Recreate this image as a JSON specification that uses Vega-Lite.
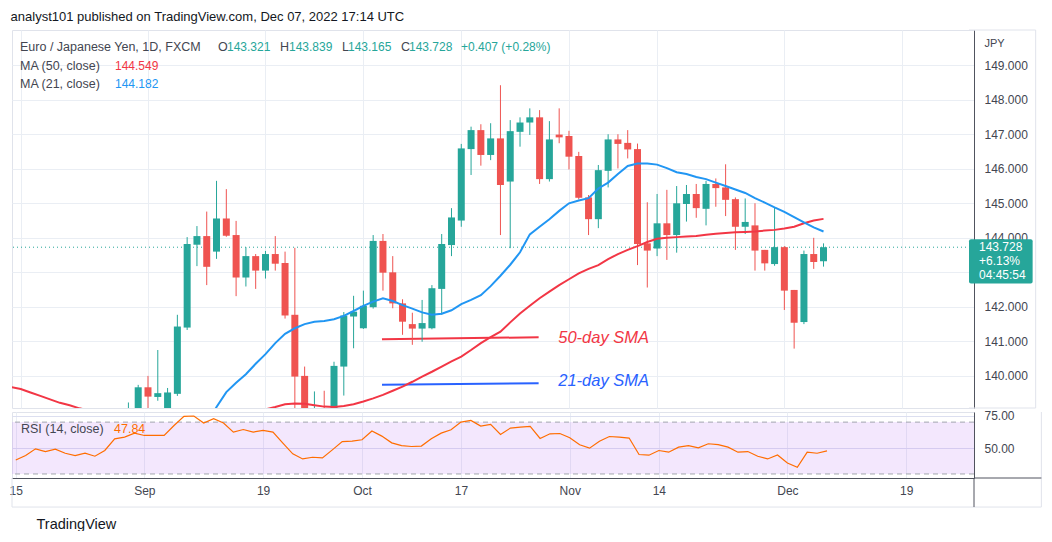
{
  "$schema": "https://vega.github.io/schema/vega-lite/v6.json",
  "background": "#ffffff",
  "padding": {"left": 8, "top": 11, "right": 0, "bottom": 0},
  "title": {
    "text": "analyst101 published on TradingView.com, Dec 07, 2022 17:14 UTC",
    "anchor": "start",
    "font": "Liberation Sans",
    "fontSize": 13,
    "fontWeight": "normal",
    "color": "#131722",
    "offset": 5,
    "dx": 2
  },
  "datasets": {
    "bars": [
      {"i": -2, "o": 138.75, "h": 139.23, "l": 138.55, "c": 138.95},
      {"i": -1, "o": 138.95, "h": 139.74, "l": 138.8, "c": 139.67},
      {"i": 0, "o": 139.67, "h": 140.0, "l": 138.95, "c": 139.4},
      {"i": 1, "o": 139.39, "h": 140.75, "l": 139.28, "c": 139.5},
      {"i": 2, "o": 138.6, "h": 139.65, "l": 138.2, "c": 139.52},
      {"i": 3, "o": 139.48, "h": 141.77, "l": 139.42, "c": 141.43},
      {"i": 4, "o": 141.4, "h": 144.02, "l": 141.33, "c": 143.82},
      {"i": 5, "o": 143.8, "h": 144.34, "l": 143.18, "c": 144.05},
      {"i": 6, "o": 144.05, "h": 144.76, "l": 142.63, "c": 143.16},
      {"i": 7, "o": 143.6, "h": 145.65, "l": 143.39, "c": 144.56},
      {"i": 8, "o": 144.56, "h": 145.41, "l": 144.03, "c": 144.06},
      {"i": 9, "o": 144.08, "h": 144.49, "l": 142.31, "c": 142.85},
      {"i": 10, "o": 142.85, "h": 143.73, "l": 142.59, "c": 143.47},
      {"i": 11, "o": 143.47, "h": 143.53, "l": 142.52, "c": 143.05},
      {"i": 12, "o": 143.05, "h": 143.62, "l": 142.82, "c": 143.53},
      {"i": 13, "o": 143.53, "h": 144.05, "l": 143.05, "c": 143.25},
      {"i": 14, "o": 143.27, "h": 143.6, "l": 141.66, "c": 141.75},
      {"i": 15, "o": 141.77, "h": 143.71, "l": 137.9, "c": 139.98},
      {"i": 16, "o": 140.0, "h": 140.27, "l": 138.3, "c": 138.65},
      {"i": 17, "o": 138.65, "h": 139.55, "l": 138.2, "c": 138.9},
      {"i": 18, "o": 138.9, "h": 139.57, "l": 138.4, "c": 138.6},
      {"i": 19, "o": 138.6, "h": 140.41, "l": 138.45, "c": 140.29},
      {"i": 20, "o": 140.27, "h": 141.85, "l": 139.43, "c": 141.75},
      {"i": 21, "o": 141.72, "h": 142.32, "l": 140.8, "c": 141.86},
      {"i": 22, "o": 141.38, "h": 142.47, "l": 141.36, "c": 142.03},
      {"i": 23, "o": 141.99, "h": 144.08, "l": 141.95, "c": 143.91},
      {"i": 24, "o": 143.91, "h": 144.11, "l": 142.47, "c": 142.99},
      {"i": 25, "o": 143.0, "h": 143.47, "l": 141.96, "c": 142.1},
      {"i": 26, "o": 142.1, "h": 142.22, "l": 141.19, "c": 141.57},
      {"i": 27, "o": 141.5, "h": 141.83, "l": 140.9, "c": 141.37},
      {"i": 28, "o": 141.37, "h": 142.2, "l": 140.99, "c": 141.53},
      {"i": 29, "o": 141.38, "h": 142.63, "l": 141.35, "c": 142.54},
      {"i": 30, "o": 142.52, "h": 144.11, "l": 141.77, "c": 143.82},
      {"i": 31, "o": 143.79, "h": 144.86, "l": 143.47, "c": 144.59},
      {"i": 32, "o": 144.5, "h": 146.72, "l": 144.32, "c": 146.59},
      {"i": 33, "o": 146.57, "h": 147.22, "l": 145.82, "c": 147.12},
      {"i": 34, "o": 147.12, "h": 147.29, "l": 146.09, "c": 146.4},
      {"i": 35, "o": 146.4, "h": 147.32, "l": 146.25, "c": 146.88},
      {"i": 36, "o": 146.88, "h": 148.42, "l": 144.08, "c": 145.53},
      {"i": 37, "o": 145.63, "h": 147.41, "l": 143.7, "c": 147.09},
      {"i": 38, "o": 147.07, "h": 147.49, "l": 146.64, "c": 147.34},
      {"i": 39, "o": 147.34, "h": 147.75, "l": 146.98, "c": 147.49},
      {"i": 40, "o": 147.49, "h": 147.7, "l": 145.56, "c": 145.7},
      {"i": 41, "o": 145.7, "h": 147.38, "l": 145.63, "c": 146.85},
      {"i": 42, "o": 146.99, "h": 147.75, "l": 146.74, "c": 146.91},
      {"i": 43, "o": 146.95, "h": 147.1, "l": 145.98, "c": 146.35},
      {"i": 44, "o": 146.37, "h": 146.49, "l": 145.11, "c": 145.16},
      {"i": 45, "o": 145.17, "h": 145.24, "l": 144.08, "c": 144.54},
      {"i": 46, "o": 144.54, "h": 146.11, "l": 144.28, "c": 145.96},
      {"i": 47, "o": 145.94, "h": 147.0, "l": 145.46, "c": 146.85},
      {"i": 48, "o": 146.85, "h": 147.0, "l": 146.01, "c": 146.72},
      {"i": 49, "o": 146.75, "h": 147.12, "l": 146.3, "c": 146.56},
      {"i": 50, "o": 146.57, "h": 146.73, "l": 143.21, "c": 143.82},
      {"i": 51, "o": 143.84, "h": 145.03, "l": 142.56, "c": 143.63},
      {"i": 52, "o": 143.69, "h": 145.27, "l": 143.47, "c": 144.42},
      {"i": 53, "o": 144.42, "h": 145.39, "l": 143.36, "c": 144.08},
      {"i": 54, "o": 144.08, "h": 145.5, "l": 143.57, "c": 145.0},
      {"i": 55, "o": 144.98, "h": 145.53, "l": 144.47, "c": 145.27},
      {"i": 56, "o": 145.27, "h": 145.56, "l": 144.58, "c": 144.86},
      {"i": 57, "o": 144.84, "h": 145.65, "l": 144.36, "c": 145.56},
      {"i": 58, "o": 145.56, "h": 145.72, "l": 144.9, "c": 145.44},
      {"i": 59, "o": 145.46, "h": 146.13, "l": 144.63, "c": 145.1},
      {"i": 60, "o": 145.12, "h": 145.17, "l": 143.65, "c": 144.32},
      {"i": 61, "o": 144.32, "h": 145.14, "l": 144.11, "c": 144.46},
      {"i": 62, "o": 144.36, "h": 145.0, "l": 143.05, "c": 143.63},
      {"i": 63, "o": 143.65, "h": 143.65, "l": 143.05, "c": 143.26},
      {"i": 64, "o": 143.24, "h": 144.88, "l": 143.19, "c": 143.73},
      {"i": 65, "o": 143.73, "h": 143.76, "l": 141.91, "c": 142.47},
      {"i": 66, "o": 142.49, "h": 142.49, "l": 140.79, "c": 141.54},
      {"i": 67, "o": 141.56, "h": 143.63, "l": 141.5, "c": 143.53},
      {"i": 68, "o": 143.53, "h": 144.0, "l": 143.1, "c": 143.3},
      {"i": 69, "o": 143.321, "h": 143.839, "l": 143.165, "c": 143.728}
    ],
    "ma50": [
      {"i": -14, "v": 139.68}, {"i": -13, "v": 139.62}, {"i": -12, "v": 139.52}, {"i": -11, "v": 139.42},
      {"i": -10, "v": 139.32}, {"i": -9, "v": 139.22}, {"i": -8, "v": 139.15}, {"i": -7, "v": 139.06},
      {"i": -6, "v": 139.0}, {"i": -4, "v": 138.92}, {"i": -2, "v": 138.88}, {"i": 0, "v": 138.85},
      {"i": 2, "v": 138.85}, {"i": 4, "v": 138.87}, {"i": 6, "v": 138.9}, {"i": 8, "v": 138.95},
      {"i": 10, "v": 138.98}, {"i": 12, "v": 139.03}, {"i": 13, "v": 139.1}, {"i": 14, "v": 139.18},
      {"i": 15, "v": 139.2}, {"i": 16, "v": 139.19}, {"i": 17, "v": 139.15}, {"i": 18, "v": 139.11},
      {"i": 19, "v": 139.1}, {"i": 20, "v": 139.13}, {"i": 21, "v": 139.18}, {"i": 22, "v": 139.26},
      {"i": 23, "v": 139.35}, {"i": 24, "v": 139.45}, {"i": 25, "v": 139.57}, {"i": 26, "v": 139.69},
      {"i": 27, "v": 139.83}, {"i": 28, "v": 139.98}, {"i": 29, "v": 140.12}, {"i": 30, "v": 140.27},
      {"i": 31, "v": 140.42}, {"i": 32, "v": 140.56}, {"i": 33, "v": 140.75}, {"i": 34, "v": 140.95},
      {"i": 35, "v": 141.12}, {"i": 36, "v": 141.28}, {"i": 37, "v": 141.55}, {"i": 38, "v": 141.81},
      {"i": 39, "v": 142.03}, {"i": 40, "v": 142.25}, {"i": 41, "v": 142.44}, {"i": 42, "v": 142.63},
      {"i": 43, "v": 142.8}, {"i": 44, "v": 142.97}, {"i": 45, "v": 143.1}, {"i": 46, "v": 143.21},
      {"i": 47, "v": 143.38}, {"i": 48, "v": 143.53}, {"i": 49, "v": 143.65}, {"i": 50, "v": 143.76},
      {"i": 51, "v": 143.88}, {"i": 52, "v": 143.97}, {"i": 53, "v": 144.0}, {"i": 54, "v": 144.02},
      {"i": 55, "v": 144.04}, {"i": 56, "v": 144.05}, {"i": 57, "v": 144.09}, {"i": 58, "v": 144.12},
      {"i": 59, "v": 144.14}, {"i": 60, "v": 144.16}, {"i": 61, "v": 144.17}, {"i": 62, "v": 144.18},
      {"i": 63, "v": 144.21}, {"i": 64, "v": 144.23}, {"i": 65, "v": 144.27}, {"i": 66, "v": 144.32},
      {"i": 67, "v": 144.42}, {"i": 68, "v": 144.5}, {"i": 69, "v": 144.549}
    ],
    "ma21": [
      {"i": 5, "v": 138.1}, {"i": 6, "v": 138.6}, {"i": 7, "v": 139.1}, {"i": 8, "v": 139.53},
      {"i": 9, "v": 139.8}, {"i": 10, "v": 140.05}, {"i": 11, "v": 140.35}, {"i": 12, "v": 140.63},
      {"i": 13, "v": 140.95}, {"i": 14, "v": 141.22}, {"i": 15, "v": 141.38}, {"i": 16, "v": 141.5},
      {"i": 17, "v": 141.57}, {"i": 18, "v": 141.59}, {"i": 19, "v": 141.64}, {"i": 20, "v": 141.74},
      {"i": 21, "v": 141.88}, {"i": 22, "v": 142.03}, {"i": 23, "v": 142.15}, {"i": 24, "v": 142.25},
      {"i": 25, "v": 142.17}, {"i": 26, "v": 142.05}, {"i": 27, "v": 141.95}, {"i": 28, "v": 141.84},
      {"i": 29, "v": 141.77}, {"i": 30, "v": 141.8}, {"i": 31, "v": 141.9}, {"i": 32, "v": 142.08},
      {"i": 33, "v": 142.2}, {"i": 34, "v": 142.34}, {"i": 35, "v": 142.6}, {"i": 36, "v": 142.9},
      {"i": 37, "v": 143.22}, {"i": 38, "v": 143.58}, {"i": 39, "v": 144.1}, {"i": 40, "v": 144.32},
      {"i": 41, "v": 144.54}, {"i": 42, "v": 144.78}, {"i": 43, "v": 145.0}, {"i": 44, "v": 145.08},
      {"i": 45, "v": 145.15}, {"i": 46, "v": 145.43}, {"i": 47, "v": 145.6}, {"i": 48, "v": 145.85},
      {"i": 49, "v": 146.08}, {"i": 50, "v": 146.15}, {"i": 51, "v": 146.15}, {"i": 52, "v": 146.12},
      {"i": 53, "v": 146.02}, {"i": 54, "v": 145.9}, {"i": 55, "v": 145.85}, {"i": 56, "v": 145.76},
      {"i": 57, "v": 145.7}, {"i": 58, "v": 145.6}, {"i": 59, "v": 145.5}, {"i": 60, "v": 145.4},
      {"i": 61, "v": 145.3}, {"i": 62, "v": 145.15}, {"i": 63, "v": 145.02}, {"i": 64, "v": 144.88},
      {"i": 65, "v": 144.75}, {"i": 66, "v": 144.6}, {"i": 67, "v": 144.45}, {"i": 68, "v": 144.3},
      {"i": 69, "v": 144.182}
    ],
    "rsi": [
      {"i": -13, "v": 40.8}, {"i": -12, "v": 44.2}, {"i": -11, "v": 49.4}, {"i": -10, "v": 47.3},
      {"i": -9, "v": 49.1}, {"i": -8, "v": 46.0}, {"i": -7, "v": 44.2}, {"i": -6, "v": 46.0},
      {"i": -5, "v": 43.7}, {"i": -4, "v": 48.1}, {"i": -3, "v": 57.1}, {"i": -2, "v": 58.4},
      {"i": -1, "v": 61.5}, {"i": 0, "v": 59.7}, {"i": 1, "v": 59.7}, {"i": 2, "v": 59.7},
      {"i": 3, "v": 67.4}, {"i": 4, "v": 74.4}, {"i": 5, "v": 74.7}, {"i": 6, "v": 69.3},
      {"i": 7, "v": 72.6}, {"i": 8, "v": 69.3}, {"i": 9, "v": 62.3}, {"i": 10, "v": 64.3},
      {"i": 11, "v": 62.3}, {"i": 12, "v": 63.6}, {"i": 13, "v": 62.3}, {"i": 14, "v": 53.8},
      {"i": 15, "v": 45.5}, {"i": 16, "v": 41.6}, {"i": 17, "v": 42.9}, {"i": 18, "v": 42.4},
      {"i": 19, "v": 48.6}, {"i": 20, "v": 55.0}, {"i": 21, "v": 55.3}, {"i": 22, "v": 56.4},
      {"i": 23, "v": 63.1}, {"i": 24, "v": 59.2}, {"i": 25, "v": 54.0}, {"i": 26, "v": 51.9},
      {"i": 27, "v": 51.2}, {"i": 28, "v": 51.5}, {"i": 29, "v": 57.1}, {"i": 30, "v": 61.5},
      {"i": 31, "v": 64.1}, {"i": 32, "v": 70.0}, {"i": 33, "v": 71.3}, {"i": 34, "v": 67.0},
      {"i": 35, "v": 68.2}, {"i": 36, "v": 60.5}, {"i": 37, "v": 65.4}, {"i": 38, "v": 66.2},
      {"i": 39, "v": 66.7}, {"i": 40, "v": 57.4}, {"i": 41, "v": 61.0}, {"i": 42, "v": 61.2},
      {"i": 43, "v": 57.9}, {"i": 44, "v": 52.5}, {"i": 45, "v": 49.9}, {"i": 46, "v": 55.3},
      {"i": 47, "v": 58.9}, {"i": 48, "v": 58.4}, {"i": 49, "v": 57.7}, {"i": 50, "v": 45.0},
      {"i": 51, "v": 44.5}, {"i": 52, "v": 48.1}, {"i": 53, "v": 46.8}, {"i": 54, "v": 50.7},
      {"i": 55, "v": 51.9}, {"i": 56, "v": 50.2}, {"i": 57, "v": 53.3}, {"i": 58, "v": 52.7},
      {"i": 59, "v": 50.7}, {"i": 60, "v": 46.8}, {"i": 61, "v": 47.3}, {"i": 62, "v": 43.7},
      {"i": 63, "v": 41.6}, {"i": 64, "v": 44.7}, {"i": 65, "v": 38.5}, {"i": 66, "v": 35.2},
      {"i": 67, "v": 46.8}, {"i": 68, "v": 46.0}, {"i": 69, "v": 47.84}
    ],
    "notes": [
      {"ma": "50", "i1": 23.9, "i2": 39.9, "p1": 141.06, "p2": 141.12, "ti": 41.9, "tp": 141.1, "label": "50-day SMA"},
      {"ma": "21", "i1": 23.9, "i2": 39.9, "p1": 139.74, "p2": 139.79, "ti": 41.9, "tp": 139.86, "label": "21-day SMA"}
    ],
    "header": [
      {"pair": "Euro / Japanese Yen, 1D, FXCM", "o": "143.321", "h": "143.839", "l": "143.165", "c": "143.728", "chg": "+0.407 (+0.28%)",
       "ma50": "MA (50, close)", "ma50v": "144.549", "ma21": "MA (21, close)", "ma21v": "144.182",
       "rsi": "RSI (14, close)", "rsiv": "47.84"}
    ],
    "rsiBand": [{"top": 70, "bottom": 30}],
    "rsiLevels": [{"level": 70}, {"level": 30}],
    "last": [{"close": 143.728, "lines": ["143.728", "+6.13%", "04:45:54"]}]
  },
  "spacing": 0,
  "vconcat": [
    {
      "width": 962,
      "height": 378,
      "encoding": {
        "x": {
          "type": "quantitative",
          "scale": {"domain": [-13.38, 83.86], "nice": false, "zero": false},
          "axis": {
            "values": [-13, 0, 12, 22, 32, 43, 52, 65, 77],
            "labels": false, "ticks": false, "domain": false, "grid": true,
            "gridColor": "#eaeef4", "title": null, "zindex": 0
          }
        },
        "y": {
          "type": "quantitative",
          "scale": {"domain": [139.07, 150.02], "nice": false, "zero": false},
          "axis": {
            "orient": "right",
            "values": [140, 141, 142, 143, 144, 145, 146, 147, 148, 149],
            "format": ".3f",
            "grid": true, "gridColor": "#eaeef4",
            "ticks": false, "labelPadding": 10,
            "labelFont": "Liberation Sans", "labelFontSize": 12, "labelColor": "#434651",
            "domainColor": "#50535e",
            "title": "JPY", "titleAngle": 0, "titleAlign": "left", "titleBaseline": "middle",
            "titleX": 10, "titleY": 13, "titleFont": "Liberation Sans", "titleFontSize": 11,
            "titleFontWeight": "normal", "titleColor": "#434651",
            "zindex": 0
          }
        }
      },
      "layer": [
        {
          "data": {"name": "last"},
          "mark": {"type": "rule", "color": "#26a69a", "strokeWidth": 1, "strokeDash": [1, 3]},
          "encoding": {"y": {"field": "close"}}
        },
        {
          "data": {"name": "notes"},
          "mark": {"type": "rule", "strokeWidth": 2},
          "encoding": {
            "x": {"field": "i1"}, "x2": {"field": "i2"},
            "y": {"field": "p1"}, "y2": {"field": "p2"},
            "color": {"field": "ma", "type": "nominal", "scale": {"domain": ["50", "21"], "range": ["#f23645", "#2962ff"]}, "legend": null}
          }
        },
        {
          "data": {"name": "notes"},
          "mark": {"type": "text", "align": "left", "baseline": "middle", "font": "Liberation Sans", "fontSize": 16.5, "fontStyle": "italic"},
          "encoding": {
            "x": {"field": "ti"}, "y": {"field": "tp"},
            "text": {"field": "label"},
            "color": {"field": "ma", "type": "nominal", "scale": {"domain": ["50", "21"], "range": ["#f23645", "#2962ff"]}, "legend": null}
          }
        },
        {
          "data": {"name": "bars"},
          "mark": {"type": "rule", "strokeWidth": 1, "clip": true},
          "encoding": {
            "x": {"field": "i"}, "y": {"field": "l"}, "y2": {"field": "h"},
            "color": {"condition": {"test": "datum.c >= datum.o", "value": "#26a69a"}, "value": "#ef5350"}
          }
        },
        {
          "data": {"name": "bars"},
          "mark": {"type": "bar", "size": 7, "clip": true},
          "encoding": {
            "x": {"field": "i"}, "y": {"field": "o"}, "y2": {"field": "c"},
            "color": {"condition": {"test": "datum.c >= datum.o", "value": "#26a69a"}, "value": "#ef5350"}
          }
        },
        {
          "data": {"name": "ma50"},
          "mark": {"type": "line", "color": "#f23645", "strokeWidth": 2, "clip": true},
          "encoding": {"x": {"field": "i"}, "y": {"field": "v"}}
        },
        {
          "data": {"name": "ma21"},
          "mark": {"type": "line", "color": "#2196f3", "strokeWidth": 2, "clip": true},
          "encoding": {"x": {"field": "i"}, "y": {"field": "v"}}
        },
        {"data": {"name": "header"},
         "mark": {"type": "text", "align": "left", "baseline": "middle", "font": "Liberation Sans", "fontSize": 12.5, "color": "#434651", "dx": 3},
         "encoding": {"x": {"datum": -13.38}, "y": {"datum": 149.525}, "text": {"field": "pair"}}},
        {"data": {"name": "header"},
         "mark": {"type": "text", "align": "left", "baseline": "middle", "font": "Liberation Sans", "fontSize": 12.5, "color": "#434651", "dx": 201, "text": "O"},
         "encoding": {"x": {"datum": -13.38}, "y": {"datum": 149.525}}},
        {"data": {"name": "header"},
         "mark": {"type": "text", "align": "left", "baseline": "middle", "font": "Liberation Sans", "fontSize": 12, "color": "#26a69a", "dx": 210},
         "encoding": {"x": {"datum": -13.38}, "y": {"datum": 149.525}, "text": {"field": "o"}}},
        {"data": {"name": "header"},
         "mark": {"type": "text", "align": "left", "baseline": "middle", "font": "Liberation Sans", "fontSize": 12.5, "color": "#434651", "dx": 263, "text": "H"},
         "encoding": {"x": {"datum": -13.38}, "y": {"datum": 149.525}}},
        {"data": {"name": "header"},
         "mark": {"type": "text", "align": "left", "baseline": "middle", "font": "Liberation Sans", "fontSize": 12, "color": "#26a69a", "dx": 272},
         "encoding": {"x": {"datum": -13.38}, "y": {"datum": 149.525}, "text": {"field": "h"}}},
        {"data": {"name": "header"},
         "mark": {"type": "text", "align": "left", "baseline": "middle", "font": "Liberation Sans", "fontSize": 12.5, "color": "#434651", "dx": 325, "text": "L"},
         "encoding": {"x": {"datum": -13.38}, "y": {"datum": 149.525}}},
        {"data": {"name": "header"},
         "mark": {"type": "text", "align": "left", "baseline": "middle", "font": "Liberation Sans", "fontSize": 12, "color": "#26a69a", "dx": 331},
         "encoding": {"x": {"datum": -13.38}, "y": {"datum": 149.525}, "text": {"field": "l"}}},
        {"data": {"name": "header"},
         "mark": {"type": "text", "align": "left", "baseline": "middle", "font": "Liberation Sans", "fontSize": 12.5, "color": "#434651", "dx": 384, "text": "C"},
         "encoding": {"x": {"datum": -13.38}, "y": {"datum": 149.525}}},
        {"data": {"name": "header"},
         "mark": {"type": "text", "align": "left", "baseline": "middle", "font": "Liberation Sans", "fontSize": 12, "color": "#26a69a", "dx": 392},
         "encoding": {"x": {"datum": -13.38}, "y": {"datum": 149.525}, "text": {"field": "c"}}},
        {"data": {"name": "header"},
         "mark": {"type": "text", "align": "left", "baseline": "middle", "font": "Liberation Sans", "fontSize": 12, "color": "#26a69a", "dx": 444},
         "encoding": {"x": {"datum": -13.38}, "y": {"datum": 149.525}, "text": {"field": "chg"}}},
        {"data": {"name": "header"},
         "mark": {"type": "text", "align": "left", "baseline": "middle", "font": "Liberation Sans", "fontSize": 12.5, "color": "#434651", "dx": 3},
         "encoding": {"x": {"datum": -13.38}, "y": {"datum": 148.99}, "text": {"field": "ma50"}}},
        {"data": {"name": "header"},
         "mark": {"type": "text", "align": "left", "baseline": "middle", "font": "Liberation Sans", "fontSize": 12, "color": "#f23645", "dx": 98},
         "encoding": {"x": {"datum": -13.38}, "y": {"datum": 148.99}, "text": {"field": "ma50v"}}},
        {"data": {"name": "header"},
         "mark": {"type": "text", "align": "left", "baseline": "middle", "font": "Liberation Sans", "fontSize": 12.5, "color": "#434651", "dx": 3},
         "encoding": {"x": {"datum": -13.38}, "y": {"datum": 148.455}, "text": {"field": "ma21"}}},
        {"data": {"name": "header"},
         "mark": {"type": "text", "align": "left", "baseline": "middle", "font": "Liberation Sans", "fontSize": 12, "color": "#2196f3", "dx": 98},
         "encoding": {"x": {"datum": -13.38}, "y": {"datum": 148.455}, "text": {"field": "ma21v"}}},
        {
          "data": {"name": "last"},
          "mark": {"type": "bar", "fill": "#26a69a", "cornerRadius": 2},
          "encoding": {"x": {"datum": 83.86}, "x2": {"datum": 90.36}, "y": {"datum": 143.96}, "y2": {"datum": 142.68}}
        },
        {
          "data": {"name": "last"},
          "mark": {"type": "text", "align": "left", "baseline": "middle", "font": "Liberation Sans", "fontSize": 12, "color": "#ffffff", "dx": 10, "lineHeight": 14},
          "encoding": {"x": {"datum": 83.86}, "y": {"field": "close"}, "text": {"field": "lines"}}
        },
        {
          "data": {"name": "last"},
          "mark": {"type": "rule", "color": "#e0e3eb"},
          "encoding": {"x": {"datum": 83.86}, "x2": {"datum": 90.67}, "y": {"datum": 150.02}}
        },
        {
          "data": {"name": "last"},
          "mark": {"type": "rule", "color": "#e0e3eb"},
          "encoding": {"x": {"datum": 83.86}, "x2": {"datum": 90.67}, "y": {"datum": 139.07}}
        },
        {
          "data": {"name": "last"},
          "mark": {"type": "rule", "color": "#e0e3eb"},
          "encoding": {"x": {"datum": 90.67}, "y": {"datum": 150.02}, "y2": {"datum": 139.07}}
        }
      ]
    },
    {
      "width": 962,
      "height": 66,
      "encoding": {
        "x": {
          "type": "quantitative",
          "scale": {"domain": [-13.38, 83.86], "nice": false, "zero": false},
          "axis": {
            "values": [-13, 0, 12, 22, 32, 43, 52, 65, 77],
            "labelExpr": "datum.value == -13 ? '15' : datum.value == 0 ? 'Sep' : datum.value == 12 ? '19' : datum.value == 22 ? 'Oct' : datum.value == 32 ? '17' : datum.value == 43 ? 'Nov' : datum.value == 52 ? '14' : datum.value == 65 ? 'Dec' : '19'",
            "labelFlush": false,
            "ticks": false, "labelPadding": 7,
            "labelFont": "Liberation Sans", "labelFontSize": 12, "labelColor": "#434651",
            "grid": true, "gridColor": "#eaeef4",
            "domainColor": "#50535e",
            "title": "TradingView", "titleFont": "Liberation Sans", "titleFontSize": 14.5,
            "titleFontWeight": "normal", "titleColor": "#131722",
            "titleAlign": "left", "titleBaseline": "middle", "titleX": 24, "titleY": 46,
            "zindex": 0
          }
        },
        "y": {
          "type": "quantitative",
          "scale": {"domain": [26.9, 77.8], "nice": false, "zero": false},
          "axis": {
            "orient": "right",
            "values": [50, 75],
            "format": ".2f",
            "grid": true, "gridColor": "#dcdff0",
            "ticks": false, "labelPadding": 10,
            "labelFont": "Liberation Sans", "labelFontSize": 12, "labelColor": "#434651",
            "domainColor": "#50535e",
            "title": null,
            "zindex": 0
          }
        }
      },
      "layer": [
        {
          "data": {"name": "rsiBand"},
          "mark": {"type": "rect", "color": "#b05cf0", "opacity": 0.15},
          "encoding": {"y": {"field": "top"}, "y2": {"field": "bottom"}}
        },
        {
          "data": {"name": "rsiLevels"},
          "mark": {"type": "rule", "color": "#a3a6af", "strokeWidth": 1, "strokeDash": [5, 4]},
          "encoding": {"y": {"field": "level"}}
        },
        {
          "data": {"name": "rsi"},
          "mark": {"type": "line", "color": "#ff6d00", "strokeWidth": 1.2, "clip": true},
          "encoding": {"x": {"field": "i"}, "y": {"field": "v"}}
        },
        {
          "data": {"name": "header"},
          "mark": {"type": "text", "align": "left", "baseline": "middle", "font": "Liberation Sans", "fontSize": 12.5, "color": "#434651", "dx": 9},
          "encoding": {"x": {"datum": -13.38}, "y": {"datum": 64.6}, "text": {"field": "rsi"}}
        },
        {
          "data": {"name": "header"},
          "mark": {"type": "text", "align": "left", "baseline": "middle", "font": "Liberation Sans", "fontSize": 12.5, "color": "#ff6d00", "dx": 102},
          "encoding": {"x": {"datum": -13.38}, "y": {"datum": 64.6}, "text": {"field": "rsiv"}}
        },
        {
          "data": {"name": "rsiBand"},
          "mark": {"type": "rule", "color": "#e0e3eb"},
          "encoding": {"x": {"datum": 90.67}, "y": {"datum": 77.8}, "y2": {"datum": 4.5}}
        },
        {
          "data": {"name": "rsiBand"},
          "mark": {"type": "rule", "color": "#e0e3eb"},
          "encoding": {"x": {"datum": -13.38}, "x2": {"datum": 90.67}, "y": {"datum": 4.5}}
        },
        {
          "data": {"name": "rsiBand"},
          "mark": {"type": "rule", "color": "#e0e3eb"},
          "encoding": {"x": {"datum": -13.38}, "y": {"datum": 26.9}, "y2": {"datum": 4.5}}
        },
        {
          "data": {"name": "rsiBand"},
          "mark": {"type": "rule", "color": "#50535e"},
          "encoding": {"x": {"datum": 83.86}, "y": {"datum": 26.9}, "y2": {"datum": 4.5}}
        },
        {
          "data": {"name": "rsiBand"},
          "mark": {"type": "rule", "color": "#50535e"},
          "encoding": {"x": {"datum": 83.86}, "x2": {"datum": 90.67}, "y": {"datum": 26.9}}
        }
      ]
    }
  ],
  "config": {
    "view": {"stroke": "#e0e3eb"},
    "axis": {"gridWidth": 1}
  }
}
